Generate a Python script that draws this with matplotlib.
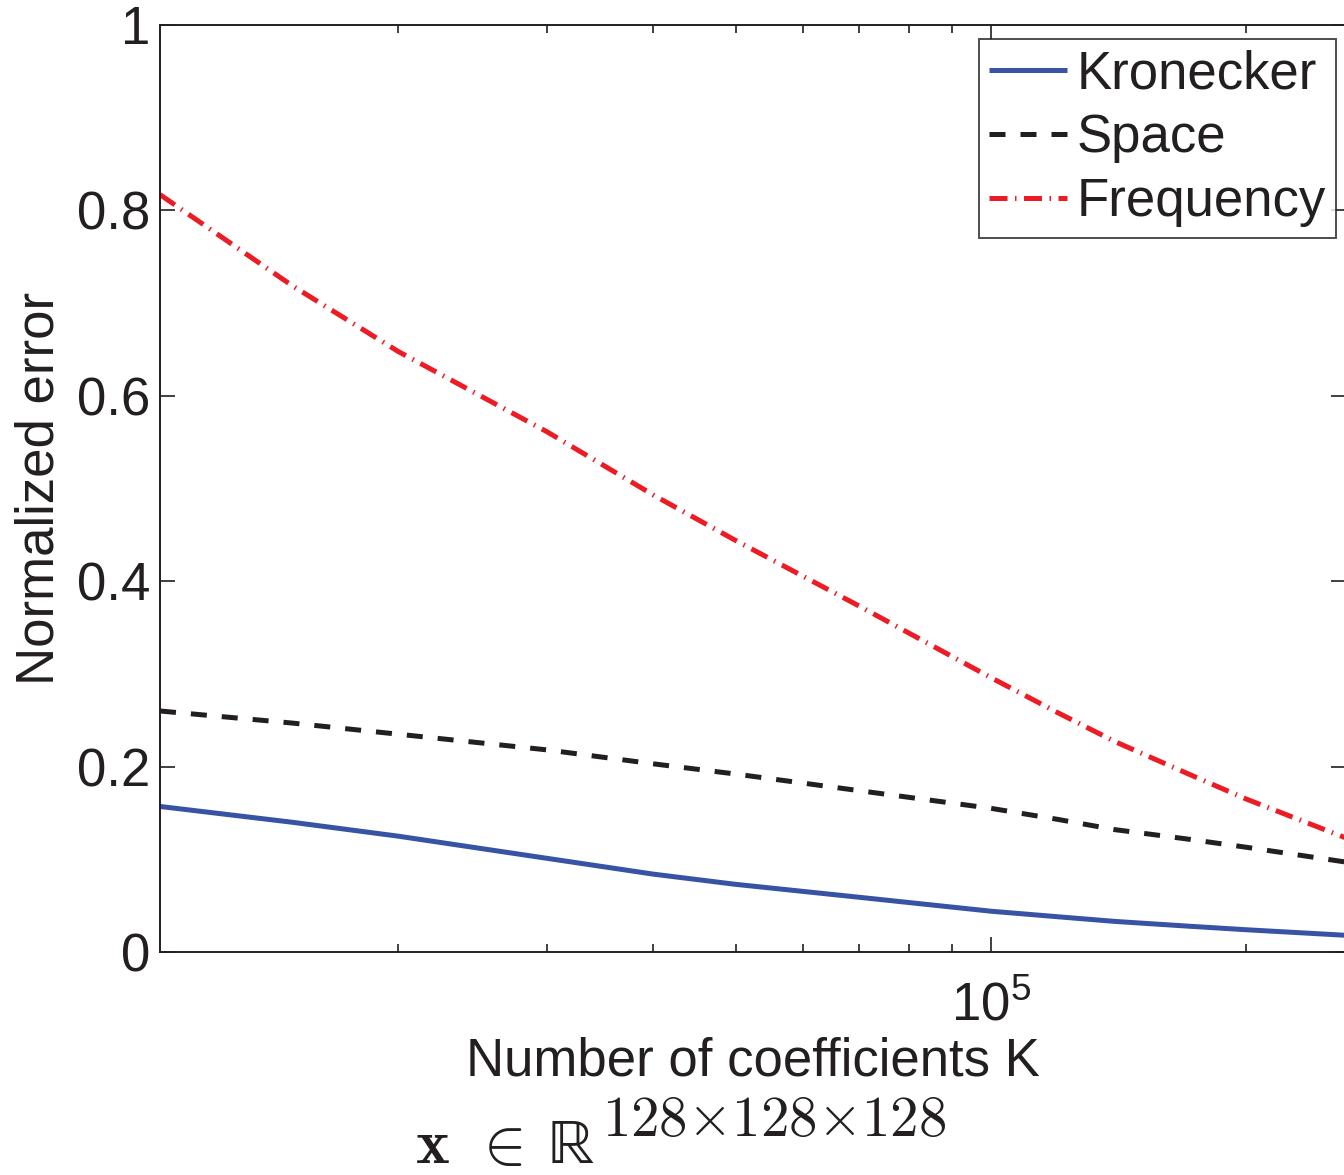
import matplotlib
matplotlib.use("Agg")
import matplotlib.pyplot as plt
from matplotlib.ticker import LogLocator, NullFormatter, FixedLocator, FixedFormatter

plt.rcParams['font.family'] = ['Liberation Sans', 'DejaVu Sans']
plt.rcParams['mathtext.fontset'] = 'custom'
plt.rcParams['mathtext.rm'] = 'Liberation Sans'
plt.rcParams['mathtext.it'] = 'Liberation Sans:italic'
plt.rcParams['mathtext.bf'] = 'Liberation Sans:bold'

# Number of retained coefficients K (volume of 128^3 voxels)
K = [10486, 15000, 20000, 30000, 40000, 50000, 70000, 100000, 120000, 140000,
     170000, 200000, 262144]

# Normalized reconstruction error per sparsifying basis
err_kronecker = [0.157, 0.140, 0.125, 0.101, 0.084, 0.073, 0.059, 0.044, 0.038,
                 0.033, 0.028, 0.024, 0.018]
err_space     = [0.260, 0.247, 0.235, 0.218, 0.203, 0.192, 0.174, 0.155, 0.143,
                 0.132, 0.122, 0.113, 0.097]
err_frequency = [0.817, 0.719, 0.648, 0.561, 0.493, 0.444, 0.373, 0.296, 0.258,
                 0.227, 0.193, 0.165, 0.123]

series_labels = ["Kronecker", "Space", "Frequency"]
y_ticks = [0, 0.2, 0.4, 0.6, 0.8, 1.0]
y_tick_labels = ["0", "0.2", "0.4", "0.6", "0.8", "1"]

W, H = 1344, 1175
fig = plt.figure(figsize=(W / 100, H / 100), dpi=100)
ax = fig.add_axes([160 / W, 1 - 952 / H, 1186 / W, 927 / H])

lw = 3.6
ax.plot(K, err_kronecker, color="#3853a4", lw=lw, solid_capstyle="butt",
        label=series_labels[0])
ax.plot(K, err_space, color="#231f20", lw=lw, linestyle=(0, (3.2, 3.0)),
        dash_capstyle="butt", label=series_labels[1])
ax.plot(K, err_frequency, color="#ed1c24", lw=lw,
        linestyle=(0, (3.6, 1.5, 0.3, 1.5)), dash_capstyle="butt",
        label=series_labels[2])

ax.set_xscale("log")
ax.set_xlim(K[0], K[-1])
ax.set_ylim(0, 1)

ax.xaxis.set_major_locator(LogLocator(base=10))
ax.xaxis.set_minor_locator(LogLocator(base=10, subs=range(2, 10)))
ax.xaxis.set_minor_formatter(NullFormatter())
ax.yaxis.set_major_locator(FixedLocator(y_ticks))
ax.yaxis.set_major_formatter(FixedFormatter(y_tick_labels))

fs = 38
ax.tick_params(which="both", direction="in", top=True, right=True,
               width=1.2, colors="#231f20", labelcolor="#231f20")
ax.tick_params(which="major", length=11, labelsize=fs)
ax.tick_params(which="minor", length=6)
ax.tick_params(axis="y", pad=7)
ax.tick_params(axis="x", pad=21)
for s in ax.spines.values():
    s.set_linewidth(1.4)
    s.set_color("#231f20")

ax.set_xlabel("Number of coefficients K", fontsize=fs, color="#231f20", labelpad=4)
ax.set_ylabel("Normalized error", fontsize=fs, color="#231f20", labelpad=9)

leg = ax.legend(loc="upper right", bbox_to_anchor=(1336 / W, 1 - 39 / H),
                bbox_transform=fig.transFigure, borderaxespad=0,
                fontsize=fs, frameon=True, fancybox=False,
                edgecolor="#231f20", handlelength=1.48, handletextpad=0.17,
                borderpad=0.2, labelspacing=0.26)
leg.get_frame().set_linewidth(1.4)
for t in leg.get_texts():
    t.set_color("#231f20")

# Signal domain note under the axis label
base_y = 1 - 1163 / H
sup_y = 1 - 1136 / H
fig.text(415 / W, base_y, r"$\mathbf{x}$", fontsize=46, math_fontfamily="cm",
         color="#231f20", ha="left", va="baseline")
fig.text(472 / W, base_y, r"$\in$", fontsize=46, math_fontfamily="cm",
         color="#231f20", ha="left", va="baseline")
fig.text(548 / W, base_y, "\u211d", fontsize=46, family="STIXGeneral",
         color="#231f20", ha="left", va="baseline")
fig.text(602 / W, sup_y, r"$128{\times}128{\times}128$", fontsize=41,
         math_fontfamily="cm", color="#231f20", ha="left", va="baseline")

fig.savefig("out.png", dpi=100, facecolor="white")
